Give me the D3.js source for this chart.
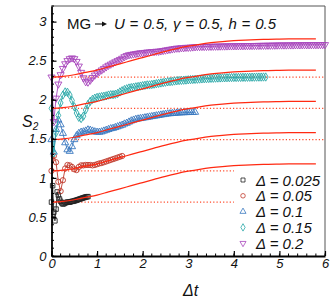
<!DOCTYPE html>
<html>
<head>
<meta charset="utf-8">
<title>S2 quench</title>
<script src="https://cdn.jsdelivr.net/npm/d3@7"></script>
<style>
  body { margin: 0; background: #fff; }
  svg { display: block; font-family: "Liberation Sans", Arial, sans-serif; }
  .tick text { font-style: italic; font-size: 13px; fill: #111; }
</style>
</head>
<body>
<div id="chart"></div>
<script>
// series labels and sampling steps
var deltas = ["0.025", "0.05", "0.1", "0.15", "0.2"];
var stepSmall = 0.025, step = 0.05;

// S2 data (already shifted by 0.4 per series, as in the figure)
var vals025 = [0.69,0.90,0.56,0.45,0.60,0.82,0.78,0.73,0.70,0.68,0.665,0.67,0.68,0.685,0.69,0.69,
  0.69,0.695,0.70,0.70,0.705,0.71,0.715,0.72,0.725,0.73,0.735,0.74,0.745,0.75,0.755,0.758,0.76];
var vals05 = [1.09,1.28,1.20,0.95,0.83,0.97,1.12,1.165,1.16,1.14,1.11,1.10,1.14,1.16,1.16,1.165,
  1.165,1.165,1.16,1.165,1.175,1.185,1.19,1.20,1.21,1.22,1.23,1.24,1.25,1.26,1.27,1.28];
var vals1 = [1.49,1.33,1.62,1.74,1.68,1.57,1.45,1.36,1.34,1.40,1.49,1.54,1.57,1.585,1.59,1.60,
  1.615,1.61,1.60,1.59,1.585,1.585,1.59,1.60,1.61,1.62,1.63,1.635,1.645,1.655,1.665,1.675,
  1.69,1.70,1.715,1.73,1.74,1.75,1.755,1.76,1.765,1.77,1.775,1.78,1.785,1.79,1.795,1.80,
  1.805,1.81,1.815,1.82,1.822,1.825,1.827,1.83,1.832,1.834,1.835,1.836,1.837,1.838,1.838,1.84];
var vals15 = [1.89,1.32,1.58,1.80,1.96,2.06,2.10,2.095,2.06,1.99,1.91,1.83,1.775,1.76,1.79,1.87,
  1.94,1.98,2.005,2.02,2.03,2.035,2.04,2.045,2.05,2.06,2.065,2.065,2.07,2.08,2.10,2.115,
  2.13,2.14,2.15,2.155,2.16,2.165,2.17,2.175,2.18,2.185,2.19,2.19,2.195,2.20,2.205,2.21,
  2.215,2.22,2.225,2.23,2.232,2.235,2.24,2.243,2.246,2.248,2.25,2.252,2.255,
  2.257,2.259,2.261,2.263,2.265,2.267,2.269,2.27,2.272,2.274,
  2.275,2.277,2.278,2.279,2.28,2.281,2.282,2.283,2.284,2.285,
  2.285,2.286,2.286,2.287,2.287,2.288,2.288,2.289,2.289,2.29,2.29,2.29,2.291,2.291];
var vals2 = [2.29,1.72,2.02,2.20,2.32,2.40,2.46,2.50,2.525,2.535,2.525,2.49,2.43,2.35,2.28,2.23,
  2.225,2.25,2.285,2.315,2.34,2.36,2.38,2.40,2.42,2.44,2.455,2.47,2.485,2.50,2.515,2.53,
  2.55,2.565,2.575,2.58,2.585,2.59,2.595,2.60,2.60,2.605,2.61,2.61,2.615,2.615,2.62,2.62,
  2.625,2.63,2.635,2.64,2.645,2.65,2.655,2.66,2.66,2.665,2.665,2.67,2.67,2.672,2.675,2.677,2.68,
  2.68,2.681,2.681,2.682,2.683,2.683,2.684,2.685,2.685,2.686,2.687,2.687,2.688,2.689,2.689,2.69,
  2.69,2.69,2.691,2.691,2.692,2.692,2.693,2.693,2.694,2.694,2.695,2.695,2.696,2.696,2.697,2.697,2.698,2.698,2.699,2.70,
  2.70,2.70,2.70,2.701,2.701,2.701,2.702,2.702,2.702,2.703,2.703,2.703,2.703,2.704,2.704,2.704,2.704,2.705,2.705,2.705];

// red fit curves
var tFit = [0,0.25,0.5,0.75,1,1.25,1.5,1.75,2,2.25,2.5,2.75,3,3.25,3.5,3.75,4,4.25,4.5,4.75,5,5.25,5.5,5.8];
var fit025 = [0.69,0.70,0.72,0.75,0.78,0.82,0.86,0.90,0.94,0.98,1.02,1.055,1.085,1.11,1.13,1.145,1.156,1.164,1.17,1.174,1.177,1.179,1.18,1.18];
var fit05 = [1.09,1.10,1.12,1.15,1.18,1.22,1.26,1.30,1.34,1.38,1.42,1.455,1.485,1.51,1.53,1.545,1.556,1.564,1.57,1.574,1.577,1.579,1.58,1.58];
var fit1 = [1.49,1.50,1.52,1.55,1.58,1.62,1.66,1.70,1.74,1.78,1.82,1.855,1.885,1.91,1.93,1.945,1.956,1.964,1.97,1.974,1.977,1.979,1.98,1.98];
var fit15 = [1.89,1.90,1.92,1.95,1.98,2.02,2.06,2.10,2.14,2.18,2.22,2.255,2.285,2.31,2.33,2.345,2.356,2.364,2.37,2.374,2.377,2.379,2.38,2.38];
var fit2 = [2.29,2.30,2.32,2.35,2.38,2.42,2.46,2.50,2.54,2.58,2.62,2.655,2.685,2.71,2.73,2.745,2.756,2.764,2.77,2.774,2.777,2.779,2.78,2.78];

// dotted reference levels (ln 2 + shift) and where they end
var levels = [0.69, 1.09, 1.49, 1.89, 2.29];
var levelEnd = [4, 4, 6, 6, 6];

var xTicks = [0,1,2,3,4,5,6];
var yTicks = [0,0.5,1,1.5,2,2.5,3];

var colors = ["#222222", "#c0392b", "#3a78c0", "#2aa8a8", "#a846bc"];
var symbols = [d3.symbolSquare, d3.symbolCircle, d3.symbolTriangle, d3.symbolDiamond, d3.symbolTriangle];
var symSize = [20, 22, 22, 20, 22];

var W = 332, H = 307;
var x = d3.scaleLinear().domain([0, 6]).range([51.5, 325]);
var y = d3.scaleLinear().domain([0, 3.2]).range([256, 6]);

var svg = d3.select("#chart").append("svg").attr("width", W).attr("height", H);

// frame (top/right thin)
svg.append("path")
  .attr("d", "M" + x(0) + "," + y(3.2) + "H" + x(6) + "V" + y(0))
  .attr("fill", "none").attr("stroke", "#555").attr("stroke-width", 1);

// dotted levels
levels.forEach(function(l, i) {
  svg.append("line")
    .attr("x1", x(0)).attr("x2", x(levelEnd[i]))
    .attr("y1", y(l)).attr("y2", y(l))
    .attr("stroke", "#ff4a2a").attr("stroke-width", 1.2)
    .attr("stroke-dasharray", "1.2,2.1");
});

// data series
var series = [vals025, vals05, vals1, vals15, vals2];
var line = d3.line().x(function(d) { return x(d[0]); }).y(function(d) { return y(d[1]); });
series.forEach(function(vals, i) {
  var dt = i === 0 ? stepSmall : step;
  var pts = vals.map(function(v, k) { return [k * dt, v]; });
  svg.append("path").attr("d", line(pts))
    .attr("fill", "none").attr("stroke", colors[i]).attr("stroke-width", 0.9);
  var sym = d3.symbol().type(symbols[i]).size(symSize[i]);
  svg.append("g").selectAll("path").data(pts).enter().append("path")
    .attr("d", sym)
    .attr("transform", function(d) {
      return "translate(" + x(d[0]) + "," + y(d[1]) + ")" + (i === 4 ? " rotate(180)" : "");
    })
    .attr("fill", "none").attr("stroke", colors[i]).attr("stroke-width", 0.9);
});

// fit curves
var fitLine = d3.line().curve(d3.curveCatmullRom)
  .x(function(d, k) { return x(tFit[k]); }).y(function(d) { return y(d); });
[fit025, fit05, fit1, fit15, fit2].forEach(function(f) {
  svg.append("path").attr("d", fitLine(f))
    .attr("fill", "none").attr("stroke", "#ff2a12").attr("stroke-width", 1.25);
});

// axes
var xAxis = svg.append("g").attr("transform", "translate(0," + y(0) + ")")
  .call(d3.axisBottom(x).tickValues(xTicks).tickFormat(d3.format("d")).tickSizeInner(-5).tickSizeOuter(0).tickPadding(3));
var yAxis = svg.append("g").attr("transform", "translate(" + x(0) + ",0)")
  .call(d3.axisLeft(y).tickValues(yTicks).tickFormat(function(d) { return d; }).tickSizeInner(-5).tickSizeOuter(0).tickPadding(5));
[xAxis, yAxis].forEach(function(a) {
  a.select(".domain").attr("stroke", "#000").attr("stroke-width", 1.8);
  a.selectAll(".tick line").attr("stroke", "#000").attr("stroke-width", 1.2);
  a.attr("font-family", null).attr("font-size", null);
});

// minor ticks
svg.append("g").selectAll("line").data(d3.range(0, 6.01, 0.2)).enter().append("line")
  .attr("x1", function(d) { return x(d); }).attr("x2", function(d) { return x(d); })
  .attr("y1", y(0)).attr("y2", y(0) - 2.5).attr("stroke", "#000").attr("stroke-width", 1);
svg.append("g").selectAll("line").data(d3.range(0, 3.21, 0.1)).enter().append("line")
  .attr("y1", function(d) { return y(d); }).attr("y2", function(d) { return y(d); })
  .attr("x1", x(0)).attr("x2", x(0) + 2.5).attr("stroke", "#000").attr("stroke-width", 1);

// axis titles
var yl = svg.append("text").attr("x", 22).attr("y", 127)
  .style("font-size", "16px").style("font-style", "italic").attr("fill", "#111");
yl.append("tspan").text("S");
yl.append("tspan").attr("font-size", "10px").attr("dy", 3).text("2");

svg.append("text").attr("x", 183).attr("y", 296)
  .style("font-size", "16px").style("font-style", "italic").attr("fill", "#111").text("\u0394t");

// title: "MG", small arrow, italic parameters fitted between x=114 and x=276
svg.append("text").attr("x", 67).attr("y", 29).style("font-size", "15px").attr("fill", "#111").text("MG");
svg.append("path").attr("d", "M95,24H103").attr("stroke", "#111").attr("stroke-width", 1.1);
svg.append("path").attr("d", "M102,21.6L107,24L102,26.4Z").attr("fill", "#111");
var par = svg.append("text").attr("x", 114).attr("y", 29).style("font-size", "15px").style("font-style", "italic")
  .attr("fill", "#111").text("U = 0.5, \u03b3 = 0.5, h = 0.5");
var target = 162, w = par.node().getComputedTextLength();
if (w > target) {
  par.style("font-size", (15 * target / w) + "px");
} else {
  par.style("word-spacing", ((target - w) / 8) + "px");
}

// legend
deltas.forEach(function(dl, i) {
  var cy = 180 + i * 15.8;
  var sym = d3.symbol().type(symbols[i]).size(16);
  svg.append("path").attr("d", sym)
    .attr("transform", "translate(243," + cy + ")" + (i === 4 ? " rotate(180)" : ""))
    .attr("fill", "none").attr("stroke", colors[i]).attr("stroke-width", 0.8);
  svg.append("text").attr("x", 256).attr("y", cy + 5.5)
    .style("font-size", "15px").style("font-style", "italic").attr("fill", "#111")
    .text("\u0394 = " + dl);
});
</script>
</body>
</html>
